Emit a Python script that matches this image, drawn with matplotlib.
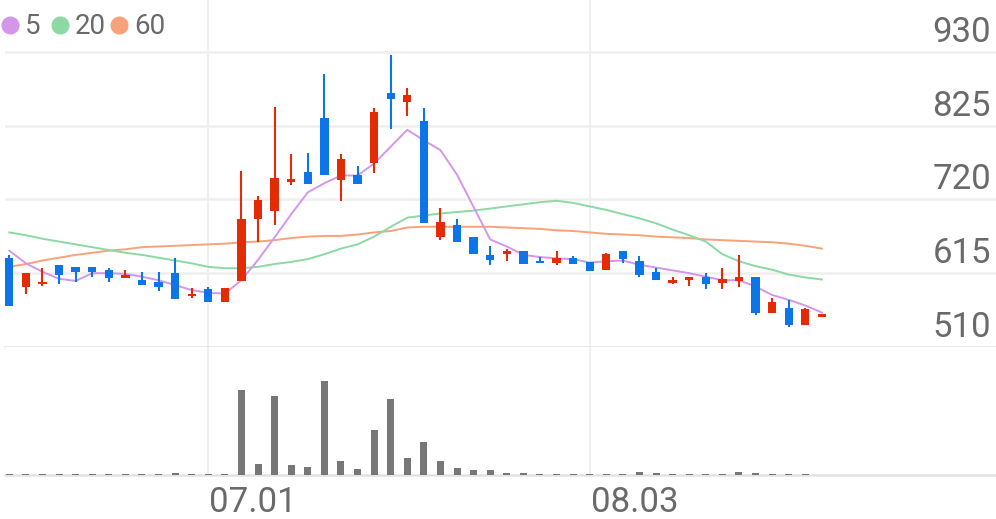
import matplotlib
matplotlib.use('Agg')
import matplotlib.pyplot as plt
from matplotlib.lines import Line2D

# Daily candles (Korean style: red = up, blue = down)
opens = [637, 596, 600, 626, 624, 624, 620, 608, 605, 603,
         615, 582, 592, 574, 604, 692, 703, 745, 759, 836,
         748, 755, 772, 872, 858, 831, 666, 683, 666, 641,
         643, 647, 632, 630, 637, 631, 620, 647, 633, 616,
         601, 605, 610, 601, 604, 610, 559, 566, 541, 552]
highs = [641, 615, 622, 626, 624, 624, 623, 619, 616, 616,
         636, 594, 596, 594, 760, 725, 851, 784, 786, 898,
         784, 767, 850, 926, 879, 850, 708, 692, 666, 653,
         649, 647, 638, 647, 640, 631, 644, 647, 640, 623,
         609, 609, 615, 622, 641, 610, 579, 577, 565, 557]
lows = [568, 585, 597, 600, 602, 610, 602, 608, 598, 590,
        578, 579, 574, 574, 604, 660, 684, 740, 742, 755,
        717, 742, 758, 820, 839, 687, 662, 659, 642, 626,
        633, 628, 630, 627, 628, 618, 620, 630, 609, 605,
        599, 597, 592, 592, 596, 555, 559, 538, 541, 552]
closes = [568, 615, 603, 613, 616, 616, 608, 613, 598, 595,
          578, 586, 574, 594, 692, 719, 751, 749, 742, 755,
          778, 742, 844, 863, 868, 687, 688, 659, 642, 634,
          646, 628, 630, 636, 628, 618, 642, 635, 612, 605,
          606, 609, 599, 607, 610, 559, 574, 541, 564, 557]

# Moving averages as drawn
ma5 = [647, 629, 617, 607, 604, 615, 615, 614, 610, 605,
       598, 591, 587, 586, 605, 634, 666, 699, 730, 743,
       754, 754, 771, 795, 819, 804, 790, 755, 709, 663,
       653, 641, 638, 636, 635, 630, 632, 633, 627, 623,
       619, 615, 610, 605, 605, 596, 584, 577, 569, 559]
ma20 = [673, 669, 664, 660, 656, 652, 648, 644, 641, 637,
        633, 629, 624, 622, 622, 624, 628, 631, 635, 642,
        650, 656, 667, 681, 694, 697, 700, 702, 704, 707,
        710, 713, 716, 718, 715, 710, 705, 699, 693, 686,
        677, 669, 660, 642, 632, 625, 620, 613, 609, 606]
ma60 = [624, 628, 633, 637, 641, 644, 647, 649, 652, 653,
        654, 655, 656, 657, 659, 660, 662, 665, 667, 668,
        668, 670, 673, 675, 680, 681, 681, 681, 681, 681,
        680, 679, 678, 676, 675, 673, 671, 670, 669, 667,
        666, 665, 663, 662, 661, 660, 659, 657, 654, 650]

# Trading volume (relative)
volumes = [1.5, 1, 1, 1, 1, 1, 1, 1, 1, 1,
           2.5, 1, 1, 1, 85, 11, 79, 10, 8, 94,
           14, 6, 45, 76, 17, 33, 14, 7, 5, 5,
           2.5, 2, 1.5, 1.5, 1.5, 1, 1.5, 1.5, 3.5, 2,
           1.5, 1.5, 1.5, 1.5, 3.5, 2.5, 1, 1, 0.7, 0.4]

date_ticks = [12, 35]
date_labels = ['07.01', '08.03']
price_ticks = [510, 615, 720, 825, 930]
ma_names = ['5', '20', '60']

plt.rcParams['font.family'] = ['Roboto', 'DejaVu Sans']

W, H = 996, 519
UP, DOWN = '#e32b06', '#0c76e8'
MA_COLORS = ['#d596ea', '#8cd9a3', '#f8a27b']
TXT = '#6a6a6a'
GRID = '#efefef'

fig = plt.figure(figsize=(W / 100, H / 100), dpi=100)


def px_box(x0, y0, x1, y1):
    return [x0 / W, 1 - y1 / H, (x1 - x0) / W, (y1 - y0) / H]


ax = fig.add_axes(px_box(5, 0, 996, 347))
axv = fig.add_axes(px_box(5, 347, 996, 475))
xlim = (-0.26, 59.5)

for a in (ax, axv):
    a.set_xlim(*xlim)
    a.set_xticks([])
    a.set_yticks([])
    for s in ('top', 'left', 'right'):
        a.spines[s].set_visible(False)
    a.spines['bottom'].set_color('#e3e3e3')
    a.spines['bottom'].set_linewidth(1.8)
    for t in date_ticks:
        a.axvline(t, color=GRID, lw=1.5, zorder=0)

# price panel
ax.set_ylim(510, 510 + 347 * 1.4225)
for p in price_ticks[1:]:
    ax.axhline(p, color=GRID, lw=1.8, zorder=0)
for p in price_ticks:
    ax.annotate(str(p), xy=(1, p), xycoords=('axes fraction', 'data'),
                xytext=(-5, 10), textcoords='offset pixels',
                ha='right', va='baseline', fontsize=25, color=TXT)

idx = list(range(len(closes)))
for ma, c in zip([ma60, ma20, ma5], MA_COLORS[::-1]):
    ax.plot(idx, ma, color=c, lw=1.4, zorder=2)

for i in idx:
    o, h, l, c = opens[i], highs[i], lows[i], closes[i]
    col = UP if c >= o else DOWN
    ax.vlines(i, l, h, color=col, lw=1.5, zorder=3)
    ax.bar(i, max(abs(c - o), 1.5), bottom=min(o, c), width=0.5,
           color=col, zorder=4, linewidth=0)

# volume panel
axv.set_ylim(0, 128)
axv.bar(idx, volumes, width=0.42, color='#777777', zorder=3, linewidth=0)
for t, lab in zip(date_ticks, date_labels):
    axv.annotate(lab, xy=(t, 0), xycoords=('data', 'axes fraction'),
                 xytext=(1, -37), textcoords='offset pixels',
                 ha='left', va='baseline', fontsize=25, color=TXT)

# legend
leg_circles = [10, 60, 119]
leg_texts = [25, 75, 134]
for name, c, cx, tx in zip(ma_names, MA_COLORS, leg_circles, leg_texts):
    fig.add_artist(Line2D([cx / W], [1 - 25 / H], marker='o', markersize=12,
                          color=c, linestyle='none', transform=fig.transFigure))
    fig.text(tx / W, 1 - 34 / H, name, fontsize=20, color=TXT,
             ha='left', va='baseline')

fig.savefig('out.png', dpi=100)
